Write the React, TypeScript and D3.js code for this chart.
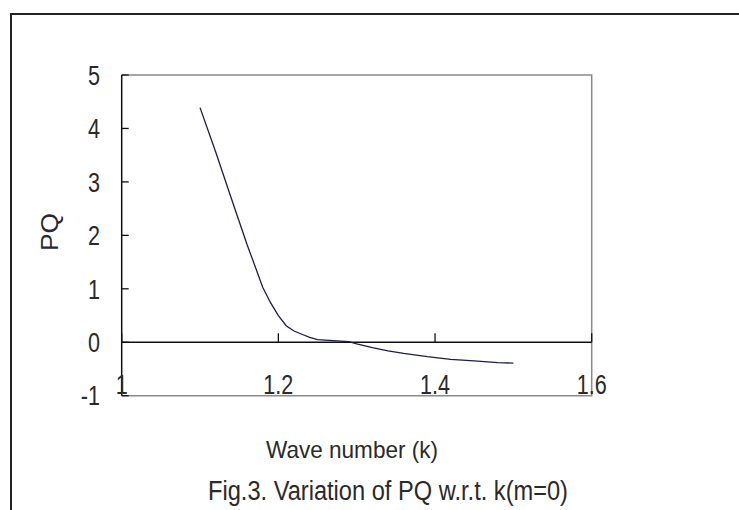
import React from "react";
import * as d3 from "d3";

const waveNumber = [1.10, 1.12, 1.14, 1.16, 1.18, 1.19, 1.20, 1.21, 1.22, 1.23, 1.24, 1.25, 1.27, 1.29, 1.30, 1.32, 1.34, 1.36, 1.39, 1.42, 1.45, 1.48, 1.50];
const pqValues = [4.39, 3.56, 2.69, 1.83, 1.03, 0.74, 0.50, 0.31, 0.21, 0.15, 0.09, 0.05, 0.03, 0.01, -0.03, -0.10, -0.16, -0.21, -0.27, -0.32, -0.35, -0.38, -0.39];
const xTicks = [1, 1.2, 1.4, 1.6];
const xTickLabels = ["1", "1.2", "1.4", "1.6"];
const yTicks = [5, 4, 3, 2, 1, 0, -1];
const yTickLabels = ["5", "4", "3", "2", "1", "0", "-1"];
const xTitle = "Wave number (k)";
const yTitle = "PQ";
const caption = "Fig.3. Variation of PQ w.r.t. k(m=0)";

export default function App() {
  const W = 739, H = 510;
  const left = 121.7, right = 591.7, top = 75, bottom = 395.7;
  const x = d3.scaleLinear().domain([1, 1.6]).range([left, right]);
  const y = d3.scaleLinear().domain([-1, 5]).range([bottom, top]);
  const data = waveNumber.map((k, i) => [k, pqValues[i]] as [number, number]);
  const line = d3.line<[number, number]>().x(d => x(d[0])).y(d => y(d[1]));
  const font = "'Liberation Sans', Arial, sans-serif";
  const txt = "#2a2a2a";

  return (
    <svg width={W} height={H} style={{ position: "absolute", left: 0, top: 0, background: "#fff" }}>
      <rect x={0} y={0} width={W} height={H} fill="#fff" />
      {/* outer frame */}
      <path d={`M11,${H + 5} L11,14 L${W + 5},14`} fill="none" stroke="#222" strokeWidth={2} />
      {/* plot box */}
      <path d={`M${left},${top} L${right},${top} L${right},${bottom} L${left},${bottom}`} fill="none" stroke="#8a8a8a" strokeWidth={1.5} />
      {/* left axis */}
      <line x1={left} x2={left} y1={top} y2={bottom} stroke="#111" strokeWidth={1.5} />
      {/* zero line (x axis) */}
      <line x1={left} x2={right} y1={y(0)} y2={y(0)} stroke="#111" strokeWidth={1.5} />
      {/* y ticks */}
      {yTicks.map(t => (
        <line key={"yt" + t} x1={left} x2={left + 7} y1={y(t)} y2={y(t)} stroke="#111" strokeWidth={1.3} />
      ))}
      {/* x ticks */}
      {xTicks.map(t => (
        <line key={"xt" + t} x1={x(t)} x2={x(t)} y1={y(0)} y2={y(0) - 9} stroke="#111" strokeWidth={1.3} />
      ))}
      {/* y tick labels */}
      {yTicks.map((t, i) => (
        <text key={"yl" + t} transform={`translate(100,${y(t)}) scale(0.8,1)`} textAnchor="end" dy="0.36em"
          fontFamily={font} fontSize={27} fill={txt}>{yTickLabels[i]}</text>
      ))}
      {/* x tick labels */}
      {xTicks.map((t, i) => (
        <text key={"xl" + t} transform={`translate(${x(t)},393.5) scale(0.8,1)`} textAnchor="middle"
          fontFamily={font} fontSize={27} fill={txt}>{xTickLabels[i]}</text>
      ))}
      {/* data line */}
      <path d={line(data) || ""} fill="none" stroke="#1c1c4a" strokeWidth={1.3} />
      {/* axis titles */}
      <text transform={`translate(58,232) rotate(-90)`} textAnchor="middle" fontFamily={font} fontSize={24}
        textLength={38} lengthAdjust="spacingAndGlyphs" fill={txt}>{yTitle}</text>
      <text x={266} y={458} fontFamily={font} fontSize={24} textLength={172} lengthAdjust="spacingAndGlyphs"
        fill={txt}>{xTitle}</text>
      <text x={208} y={500} fontFamily={font} fontSize={27} textLength={360} lengthAdjust="spacingAndGlyphs"
        fill={txt}>{caption}</text>
    </svg>
  );
}
